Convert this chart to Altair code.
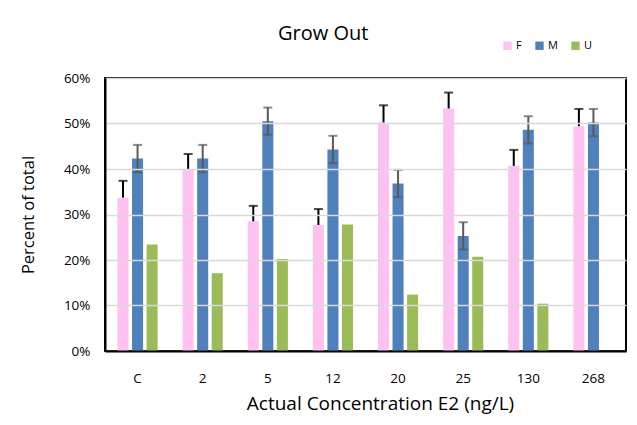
import altair as alt
import pandas as pd

categories = ["C", "2", "5", "12", "20", "25", "130", "268"]
sexes = ["F", "M", "U"]
f_vals = [33.7, 39.9, 28.5, 27.7, 50.2, 53.3, 40.7, 49.4]
m_vals = [42.3, 42.3, 50.5, 44.3, 36.8, 25.3, 48.6, 50.2]
u_vals = [23.4, 17.1, 20.2, 27.8, 12.4, 20.7, 10.4, 0.0]
f_err = [3.7, 3.4, 3.4, 3.5, 3.8, 3.5, 3.5, 3.8]
m_err = [3.0, 3.0, 3.0, 3.0, 3.0, 3.0, 3.0, 3.0]
colors = ["#FFC1F2", "#4F81BD", "#9BBB59"]

rows = []
for i, c in enumerate(categories):
    rows.append({"cat": c, "sex": "F", "v": f_vals[i] / 100, "lo": f_vals[i] / 100, "hi": (f_vals[i] + f_err[i]) / 100})
    rows.append({"cat": c, "sex": "M", "v": m_vals[i] / 100, "lo": (m_vals[i] - m_err[i]) / 100, "hi": (m_vals[i] + m_err[i]) / 100})
    rows.append({"cat": c, "sex": "U", "v": u_vals[i] / 100, "lo": None, "hi": None})
df = pd.DataFrame(rows)

FONT = "Open Sans"

x = alt.X("cat:N", sort=categories, title="Actual Concentration E2 (ng/L)",
          scale=alt.Scale(paddingInner=0.33, paddingOuter=0.165),
          axis=alt.Axis(labelAngle=0, ticks=False, domain=True, domainColor="#000000",
                        domainWidth=2, labelFontSize=13.5, zindex=1,
                        labelColor="#000", labelPadding=20, titleFontSize=19,
                        titleFontWeight="normal", titleColor="#000", titlePadding=10,
                        titleX=275, titleAlign="center",
                        labelFont=FONT, titleFont=FONT))
xo = alt.XOffset("sex:N", sort=sexes, scale=alt.Scale(paddingInner=0.24, paddingOuter=0.12))

bars = alt.Chart(df).mark_bar().encode(
    x=x, xOffset=xo,
    y=alt.Y("v:Q", title="Percent of total",
            scale=alt.Scale(domain=[0, 0.6], nice=False),
            axis=alt.Axis(format=".0%", values=[0, 0.1, 0.2, 0.3, 0.4, 0.5, 0.6],
                          ticks=False, domain=True, domainColor="#000000", domainWidth=2,
                          labelFontSize=13.5, labelColor="#000", zindex=1,
                          labelPadding=15, gridColor="#D9D9D9", gridWidth=1.5,
                          titleFontSize=16.5, titleFontWeight="normal", titleColor="#000",
                          titlePadding=27, labelFont=FONT, titleFont=FONT)),
    color=alt.Color("sex:N", sort=sexes, scale=alt.Scale(domain=sexes, range=colors),
                    legend=alt.Legend(title=None, orient="none", direction="horizontal",
                                      legendX=397, legendY=-38, symbolType="square",
                                      symbolSize=70, symbolStrokeWidth=0, labelFontSize=11,
                                      labelFont=FONT, labelColor="#000", columnPadding=12,
                                      labelOffset=3)),
)

err = df[df["sex"] != "U"]
ebase = alt.Chart(err).encode(
    x=alt.X("cat:N", sort=categories), xOffset=xo,
    color=alt.Color("sex:N", scale=alt.Scale(domain=["F", "M"], range=["#000000", "#595959"]), legend=None),
)
rules = ebase.mark_rule(strokeWidth=2).encode(y="lo:Q", y2="hi:Q")
caps_hi = ebase.mark_tick(size=9, thickness=2).encode(y="hi:Q")
caps_lo = alt.Chart(df[df["sex"] == "M"]).mark_tick(size=9, thickness=2, color="#595959").encode(
    x=alt.X("cat:N", sort=categories), xOffset=xo, y="lo:Q")

chart = alt.layer(bars, rules, caps_hi, caps_lo).resolve_scale(color="independent").properties(
    width=521, height=273,
    title=alt.Title("Grow Out", fontSize=20, fontWeight="normal", font=FONT, color="#000",
                    anchor="middle", frame="bounds", offset=0, dy=4),
    autosize=alt.AutoSizeParams(type="none"),
    padding={"left": 97, "top": 70, "right": 3, "bottom": 65},
).configure(background="white").configure_view(stroke="#000000", strokeWidth=2)

chart.save("out.html", embed_options={"renderer": "svg", "actions": False})
